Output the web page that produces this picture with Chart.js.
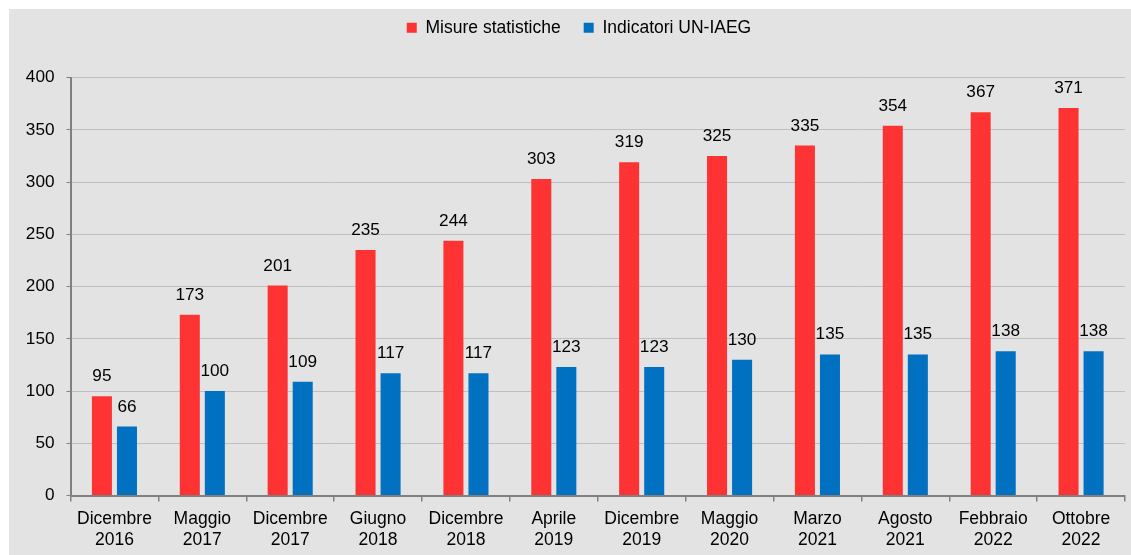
<!DOCTYPE html>
<html>
<head>
<meta charset="utf-8">
<script src="https://cdn.jsdelivr.net/npm/chart.js@4/dist/chart.umd.min.js"></script>
<style>
  body { margin: 0; background: #ffffff; }
  #box { position: absolute; left: 9px; top: 9px; width: 1122px; height: 546px; background: #e3e3e3; }
</style>
</head>
<body>
<div id="box"><canvas id="grafico" width="1122" height="546"></canvas></div>
<script>
// etichette e valori
var periodi = [
  ["Dicembre", "2016"], ["Maggio", "2017"], ["Dicembre", "2017"], ["Giugno", "2018"],
  ["Dicembre", "2018"], ["Aprile", "2019"], ["Dicembre", "2019"], ["Maggio", "2020"],
  ["Marzo", "2021"], ["Agosto", "2021"], ["Febbraio", "2022"], ["Ottobre", "2022"]
];
var misureStatistiche = [95, 173, 201, 235, 244, 303, 319, 325, 335, 354, 367, 371];
var indicatoriUN = [66, 100, 109, 117, 117, 123, 123, 130, 135, 135, 138, 138];

var fontBase = "'Liberation Sans', Arial, sans-serif";

// scrive il valore sopra ogni barra
var etichetteValori = {
  id: "etichetteValori",
  afterDatasetsDraw: function (chart) {
    var ctx = chart.ctx;
    ctx.save();
    ctx.font = "17.2px " + fontBase;
    ctx.fillStyle = "#000000";
    ctx.textAlign = "center";
    ctx.textBaseline = "alphabetic";
    chart.data.datasets.forEach(function (ds, i) {
      var meta = chart.getDatasetMeta(i);
      meta.data.forEach(function (bar, j) {
        ctx.fillText(String(ds.data[j]), bar.x, bar.y - 15);
      });
    });
    ctx.restore();
  }
};

// spazio extra sotto la legenda, legenda spostata
var spazioLegenda = {
  id: "spazioLegenda",
  beforeInit: function (chart) {
    var origFit = chart.legend.fit;
    chart.legend.fit = function () {
      origFit.bind(chart.legend)();
      this.height = 68.7;
    };
  },
  afterLayout: function (chart) {
    chart.legend.top = -13;
    chart.legend.left += 12;
    chart.legend.right += 12;
  }
};

new Chart(document.getElementById("grafico"),
{
  type: "bar",
  data:
  {
    labels: periodi,
    datasets:
    [{
      label: "Misure statistiche",
      data: misureStatistiche,
      backgroundColor: "#ff3333",
      barPercentage: 0.8,
      categoryPercentage: 0.57
    },
    {
      label: "Indicatori UN-IAEG",
      data: indicatoriUN,
      backgroundColor: "#0070c0",
      barPercentage: 0.8,
      categoryPercentage: 0.57
    }]
  },
  options:
  {
    responsive: false,
    animation: false,
    layout: { padding: { left: 0, right: 6, top: 0, bottom: 0 } },
    plugins:
    {
      legend:
      {
        position: "top",
        labels:
        {
          boxWidth: 10,
          boxHeight: 10,
          padding: 23,
          color: "#000000",
          font: { family: fontBase, size: 17.5 }
        }
      },
      tooltip: { enabled: false }
    },
    scales:
    {
      x:
      {
        afterFit: function (scale) { scale.height = 59.5; },
        grid:
        {
          offset: true,
          drawOnChartArea: false,
          tickLength: 6,
          color: "#808080",
          lineWidth: 1.5
        },
        border: { color: "#808080", width: 2 },
        ticks:
        {
          padding: 7,
          maxRotation: 0,
          autoSkip: false,
          color: "#000000",
          font: { family: fontBase, size: 17.5 }
        }
      },
      y:
      {
        min: 0,
        max: 400,
        afterFit: function (scale) { scale.width = 61.5; },
        grid:
        {
          color: "#bfbfbf",
          tickColor: "#808080",
          tickLength: 4
        },
        border: { color: "#808080", width: 2 },
        ticks:
        {
          stepSize: 50,
          padding: 12,
          color: "#000000",
          font: { family: fontBase, size: 17.2 }
        }
      }
    }
  },
  plugins: [etichetteValori, spazioLegenda]
});
</script>
</body>
</html>
